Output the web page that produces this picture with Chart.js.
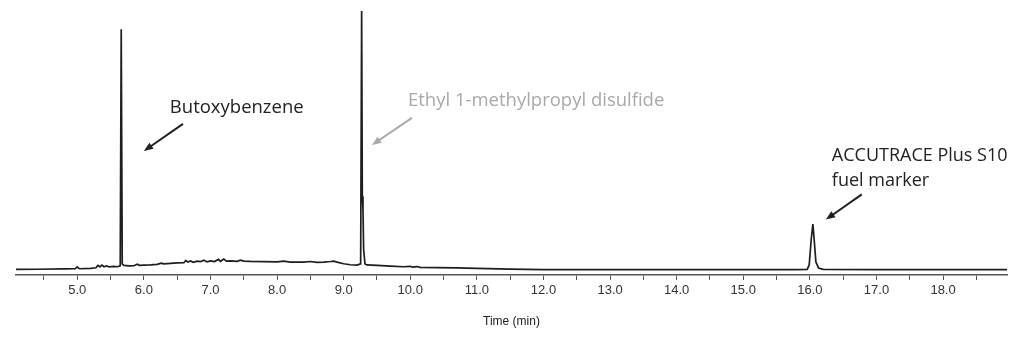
<!DOCTYPE html>
<html>
<head>
<meta charset="utf-8">
<script src="https://cdn.jsdelivr.net/npm/chart.js@4/dist/chart.umd.min.js"></script>
<style>
  body { margin: 0; background: #fff; }
  #wrap { width: 1024px; height: 341px; }
</style>
</head>
<body>
<div id="wrap"><canvas id="chromatogram" width="1024" height="341"></canvas></div>
<script>
// retention time (min) and detector signal (arbitrary units)
const times = [
  4.08, 4.40, 4.80, 4.97, 5.00, 5.03, 5.20, 5.28, 5.31, 5.34, 5.37, 5.40, 5.44, 5.48, 5.55, 5.60,
  5.645, 5.66, 5.675, 5.70, 5.78, 5.85, 5.90, 5.93, 6.00, 6.10, 6.20, 6.26, 6.30, 6.40, 6.50, 6.60,
  6.63, 6.66, 6.70, 6.74, 6.80, 6.85, 6.90, 6.95, 7.00, 7.06, 7.12, 7.15, 7.20, 7.24, 7.30, 7.40,
  7.45, 7.50, 7.60, 7.80, 8.00, 8.10, 8.20, 8.40, 8.50, 8.60, 8.70, 8.80, 8.85, 8.90, 9.00, 9.10,
  9.20, 9.255, 9.27, 9.28, 9.29, 9.30, 9.32, 9.35, 9.50, 9.70, 9.90, 10.00, 10.03, 10.10, 10.15, 10.40,
  10.70, 11.00, 11.50, 12.00, 13.00, 14.00, 15.00, 15.80, 15.96, 15.99, 16.02, 16.045, 16.065, 16.09, 16.13, 16.20,
  17.00, 18.00, 18.96
];
const signal = [
  0.5, 0.7, 1.0, 1.2, 3.0, 1.2, 1.6, 2.2, 4.5, 3.0, 4.8, 3.2, 4.0, 3.0, 3.5, 3.2,
  4.0, 239, 6.0, 4.5, 4.0, 4.2, 5.8, 4.6, 4.8, 5.0, 5.6, 6.8, 6.0, 6.5, 7.0, 7.2,
  9.5, 7.8, 9.0, 7.6, 8.8, 8.2, 9.6, 8.0, 9.0, 8.4, 10.5, 8.6, 10.8, 8.8, 9.0, 8.6,
  9.8, 8.8, 8.5, 8.2, 8.0, 8.8, 7.8, 7.8, 8.4, 7.6, 7.8, 8.4, 8.8, 7.8, 6.2, 5.2,
  4.8, 6.0, 257, 73, 60, 20, 6.0, 5.0, 4.5, 3.8, 3.2, 3.6, 2.8, 3.4, 2.6, 2.3,
  2.0, 1.5, 0.8, 0.4, 0.3, 0.3, 0.3, 0.3, 0.6, 5.0, 30, 45.5, 30, 8.0, 2.0, 0.6,
  0.4, 0.4, 0.4
];

// axis ticks every half minute, labelled on whole minutes
const tickPositions = [4.5, 5.0, 5.5, 6.0, 6.5, 7.0, 7.5, 8.0, 8.5, 9.0, 9.5, 10.0, 10.5, 11.0, 11.5,
  12.0, 12.5, 13.0, 13.5, 14.0, 14.5, 15.0, 15.5, 16.0, 16.5, 17.0, 17.5, 18.0, 18.5];

// peak labels
const labelTexts = [['Butoxybenzene'], ['Ethyl 1-methylpropyl disulfide'], ['ACCUTRACE Plus S10', 'fuel marker']];
const labelColors = ['#222222', '#a9a9a9', '#222222'];
const labelSizes = [18.5, 18.5, 18];
const labelAt = [[6.39, 161], [9.965, 168], [16.33, 113]];
const arrowFrom = [[6.587, 145], [10.025, 151], [16.78, 75]];
const arrowTo = [[6.0, 118], [9.425, 124], [16.24, 50]];

const points = times.map((t, i) => ({ x: t, y: signal[i] }));

const peakLabels = {
  id: 'peakLabels',
  afterDatasetsDraw(chart) {
    const ctx = chart.ctx;
    const xs = chart.scales.x, ys = chart.scales.y;
    ctx.save();
    ctx.textBaseline = 'middle';
    ctx.textAlign = 'left';
    labelTexts.forEach((lines, i) => {
      ctx.font = labelSizes[i] + 'px "Open Sans", sans-serif';
      ctx.fillStyle = labelColors[i];
      ctx.strokeStyle = labelColors[i];
      const lx = xs.getPixelForValue(labelAt[i][0]);
      const ly = ys.getPixelForValue(labelAt[i][1]);
      lines.forEach((txt, j) => ctx.fillText(txt, lx, ly + j * 25));

      const x1 = xs.getPixelForValue(arrowFrom[i][0]), y1 = ys.getPixelForValue(arrowFrom[i][1]);
      const x2 = xs.getPixelForValue(arrowTo[i][0]), y2 = ys.getPixelForValue(arrowTo[i][1]);
      const ang = Math.atan2(y2 - y1, x2 - x1);
      const head = 10;
      ctx.lineWidth = 2;
      ctx.beginPath();
      ctx.moveTo(x1, y1);
      ctx.lineTo(x2 - Math.cos(ang) * head * 0.8, y2 - Math.sin(ang) * head * 0.8);
      ctx.stroke();
      ctx.beginPath();
      ctx.moveTo(x2, y2);
      ctx.lineTo(x2 - head * Math.cos(ang - 0.38), y2 - head * Math.sin(ang - 0.38));
      ctx.lineTo(x2 - head * Math.cos(ang + 0.38), y2 - head * Math.sin(ang + 0.38));
      ctx.closePath();
      ctx.fill();
    });
    ctx.restore();
  }
};

new Chart(document.getElementById('chromatogram'), {
  type: 'line',
  data: {
    datasets: [{
      data: points,
      borderColor: '#1e1e1e',
      borderWidth: 1.7,
      pointRadius: 0,
      tension: 0,
      fill: false
    }]
  },
  options: {
    responsive: false,
    animation: false,
    layout: { padding: { top: 6, left: 16, right: 17, bottom: 12 } },
    plugins: { legend: { display: false }, tooltip: { enabled: false } },
    scales: {
      x: {
        type: 'linear',
        min: 4.08,
        max: 18.96,
        afterBuildTicks: scale => { scale.ticks = tickPositions.map(v => ({ value: v })); },
        grid: { drawOnChartArea: false, drawTicks: true, tickLength: 5, color: '#555', lineWidth: 1 },
        border: { display: true, color: '#555', width: 1.5 },
        ticks: {
          autoSkip: false,
          maxRotation: 0,
          padding: 3,
          color: '#333',
          font: { family: '"Liberation Sans", sans-serif', size: 13 },
          callback: v => (v % 1 === 0 ? v.toFixed(1) : '')
        },
        title: {
          display: true,
          text: 'Time (min)',
          color: '#222',
          padding: { top: 13, bottom: 0 },
          font: { family: '"Liberation Sans", sans-serif', size: 12 }
        }
      },
      y: {
        display: false,
        min: -5,
        max: 262
      }
    }
  },
  plugins: [peakLabels]
});
</script>
</body>
</html>
